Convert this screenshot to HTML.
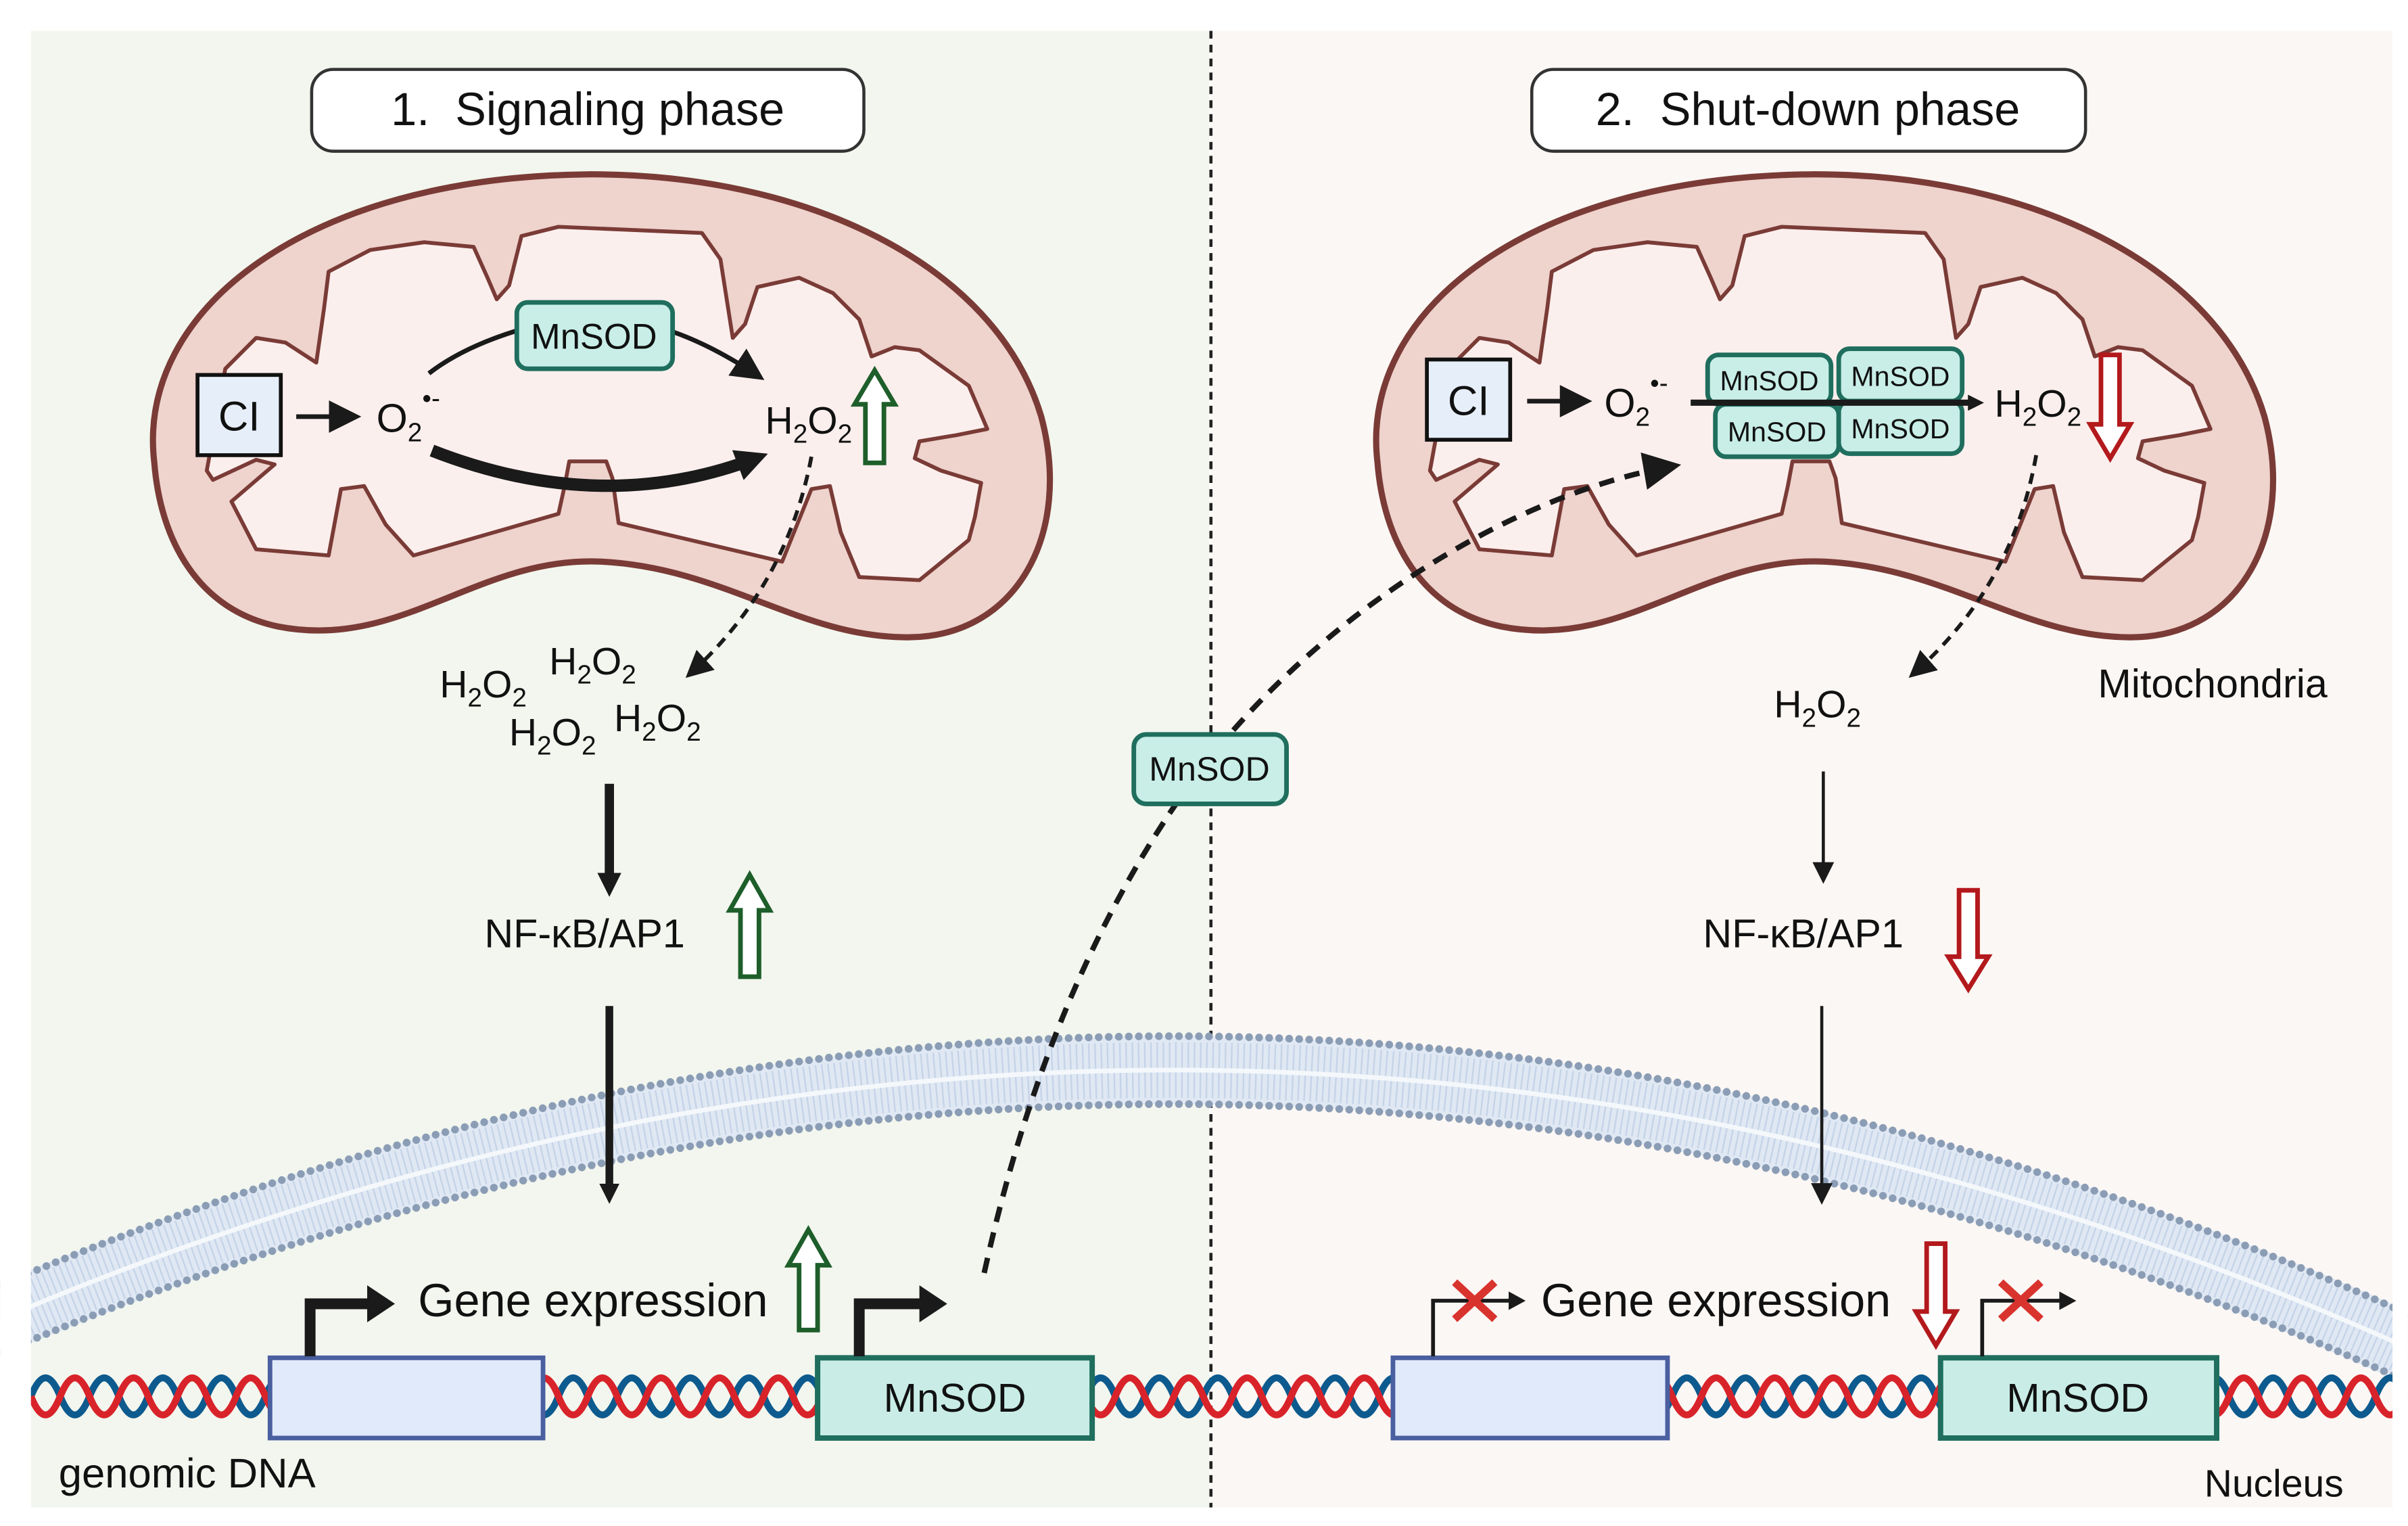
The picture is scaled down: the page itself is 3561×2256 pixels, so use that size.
<!DOCTYPE html>
<html><head><meta charset="utf-8"><style>
html,body{margin:0;padding:0;background:#fff}
svg{display:block}
text{font-family:"Liberation Sans",sans-serif;fill:#111}
</style></head><body>
<svg width="3561" height="2256" viewBox="0 0 1561 989" xmlns="http://www.w3.org/2000/svg">
<defs>
<marker id="ah" viewBox="0 0 10 10" refX="8" refY="5" markerWidth="4" markerHeight="4" orient="auto" markerUnits="strokeWidth"><path d="M0,0 L10,5 L0,10 z" fill="#1a1a1a"/></marker>
<marker id="ahs" viewBox="0 0 10 10" refX="8" refY="5" markerWidth="7" markerHeight="7" orient="auto" markerUnits="strokeWidth"><path d="M0,0 L10,5 L0,10 z" fill="#1a1a1a"/></marker>
<marker id="ahb" viewBox="0 0 10 10" refX="6" refY="5" markerWidth="2.6" markerHeight="2.6" orient="auto" markerUnits="strokeWidth"><path d="M0,0 L10,5 L0,10 z" fill="#1a1a1a"/></marker>
<g id="mito">
<path d="M100,300 C88,200 200,115 380,113 C520,112 645,170 675,270 C695,345 660,412 590,413 C520,414 470,368 390,364 C310,360 260,422 180,406 C128,395 104,350 100,300 Z" fill="#efd3cd" stroke="#7a3b36" stroke-width="4"/>
<polygon points="134,305 146,239 166,219 185,222 205,235 210,200 213,176 240,162 275,157 307,160 316,180 322,194 330,185 338,153 362,147 455,151 467,168 475,219 483,210 491,186 518,180 540,190 557,207 565,231 580,225 596,227 628,250 640,278 620,282 596,286 593,297 610,305 636,313 632,335 628,350 596,376 557,374 545,345 538,315 526,317 507,364 401,339 397,310 393,299 369,299 366,315 362,333 268,360 250,340 236,315 221,317 213,360 166,356 150,325 178,301 166,298 138,311" fill="#fbefed" stroke="#7a3b36" stroke-width="2.5" stroke-linejoin="round"/>
</g>
</defs>
<rect x="0" y="0" width="1561" height="989" fill="#fff"/>
<rect x="20" y="20" width="764" height="957" fill="#f2f6ee"/>
<rect x="785" y="20" width="766" height="957" fill="#fbf7f4"/>
<line x1="785" y1="20" x2="785" y2="977" stroke="#222" stroke-width="2" stroke-dasharray="5,4"/>

<rect x="202" y="45" width="358" height="53" rx="14" fill="#fff" stroke="#333" stroke-width="2"/>
<text x="381" y="81" font-size="30" text-anchor="middle">1.&#160; Signaling phase</text>
<rect x="993" y="45" width="359" height="53" rx="14" fill="#fff" stroke="#333" stroke-width="2"/>
<text x="1172" y="81" font-size="30" text-anchor="middle">2.&#160; Shut-down phase</text>

<path d="M0,855 Q790,520 1575,880" fill="none" stroke="#dfe8f3" stroke-width="44"/>
<path d="M0,855 Q790,520 1575,880" fill="none" stroke="#b9cbe3" stroke-width="36" stroke-dasharray="1,3" opacity="0.7"/>
<path d="M0,855 Q790,520 1575,880" fill="none" stroke="#f4f8fb" stroke-width="3"/>
<path d="M0,833 Q790,498 1575,858" fill="none" stroke="#8b9db5" stroke-width="5" stroke-dasharray="0,6.5" stroke-linecap="round"/>
<path d="M0,877 Q790,542 1575,902" fill="none" stroke="#8b9db5" stroke-width="5" stroke-dasharray="0,6.5" stroke-linecap="round"/>
<rect x="0" y="977" width="1561" height="12" fill="#fff"/>
<rect x="0" y="0" width="20" height="989" fill="#fff"/>
<rect x="1551" y="0" width="10" height="989" fill="#fff"/>

<use href="#mito"/>
<use href="#mito" transform="translate(793,0)"/>

<rect x="128" y="243" width="54" height="52" fill="#e6eefa" stroke="#111" stroke-width="2.5"/>
<text x="155" y="279" font-size="27" text-anchor="middle">CI</text>
<line x1="192" y1="270" x2="230" y2="270" stroke="#1a1a1a" stroke-width="3" marker-end="url(#ahs)"/>
<text x="244" y="280" font-size="26">O<tspan font-size="17" dy="6">2</tspan><tspan font-size="17" dy="-22">•-</tspan></text>
<path d="M278,242 Q300,225 336,214" fill="none" stroke="#1a1a1a" stroke-width="3"/>
<path d="M436,215 Q462,224 492,244" fill="none" stroke="#1a1a1a" stroke-width="3" marker-end="url(#ahs)"/>
<rect x="335" y="196" width="101" height="43" rx="7" fill="#c8eee7" stroke="#1f6e5e" stroke-width="3"/>
<text x="385" y="226" font-size="23" text-anchor="middle">MnSOD</text>
<path d="M280,292 Q390,335 490,297" fill="none" stroke="#1a1a1a" stroke-width="8" marker-end="url(#ahb)"/>
<text x="496" y="281" font-size="25">H<tspan font-size="17" dy="6">2</tspan><tspan dy="-6">O</tspan><tspan font-size="17" dy="6">2</tspan></text>
<path d="M567,240 L580,262 L573,262 L573,300 L561,300 L561,262 L554,262 Z" fill="#fff" stroke="#1e5e2a" stroke-width="3"/>
<path d="M526,296 Q510,380 447,437" fill="none" stroke="#1a1a1a" stroke-width="2.5" stroke-dasharray="7,5" marker-end="url(#ahs)"/>

<text x="285" y="452" font-size="25">H<tspan font-size="17" dy="6">2</tspan><tspan dy="-6">O</tspan><tspan font-size="17" dy="6">2</tspan></text>
<text x="356" y="437" font-size="25">H<tspan font-size="17" dy="6">2</tspan><tspan dy="-6">O</tspan><tspan font-size="17" dy="6">2</tspan></text>
<text x="330" y="483" font-size="25">H<tspan font-size="17" dy="6">2</tspan><tspan dy="-6">O</tspan><tspan font-size="17" dy="6">2</tspan></text>
<text x="398" y="474" font-size="25">H<tspan font-size="17" dy="6">2</tspan><tspan dy="-6">O</tspan><tspan font-size="17" dy="6">2</tspan></text>

<line x1="395" y1="508" x2="395" y2="575" stroke="#1a1a1a" stroke-width="6" marker-end="url(#ahb)"/>
<text x="314" y="614" font-size="26">NF-κB/AP1</text>
<path d="M486,567 L499,590 L492,590 L492,633 L480,633 L480,590 L473,590 Z" fill="#fff" stroke="#1e5e2a" stroke-width="3"/>
<line x1="395" y1="652" x2="395" y2="775" stroke="#1a1a1a" stroke-width="5" marker-end="url(#ahb)"/>

<rect x="925" y="233" width="54" height="52" fill="#e6eefa" stroke="#111" stroke-width="2.5"/>
<text x="952" y="269" font-size="27" text-anchor="middle">CI</text>
<line x1="990" y1="260" x2="1028" y2="260" stroke="#1a1a1a" stroke-width="3" marker-end="url(#ahs)"/>
<text x="1040" y="270" font-size="26">O<tspan font-size="17" dy="6">2</tspan><tspan font-size="17" dy="-22">•-</tspan></text>
<rect x="1107" y="230" width="80" height="32" rx="7" fill="#c8eee7" stroke="#1f6e5e" stroke-width="3"/>
<rect x="1192" y="226" width="80" height="34" rx="7" fill="#c8eee7" stroke="#1f6e5e" stroke-width="3"/>
<rect x="1112" y="262" width="80" height="34" rx="7" fill="#c8eee7" stroke="#1f6e5e" stroke-width="3"/>
<rect x="1192" y="260" width="80" height="34" rx="7" fill="#c8eee7" stroke="#1f6e5e" stroke-width="3"/>
<line x1="1096" y1="261" x2="1282" y2="261" stroke="#1a1a1a" stroke-width="4" marker-end="url(#ahb)"/>
<text x="1147" y="253" font-size="18" text-anchor="middle">MnSOD</text>
<text x="1232" y="250" font-size="18" text-anchor="middle">MnSOD</text>
<text x="1152" y="286" font-size="18" text-anchor="middle">MnSOD</text>
<text x="1232" y="284" font-size="18" text-anchor="middle">MnSOD</text>
<text x="1293" y="270" font-size="25">H<tspan font-size="17" dy="6">2</tspan><tspan dy="-6">O</tspan><tspan font-size="17" dy="6">2</tspan></text>
<path d="M1362,230 L1374,230 L1374,275 L1381,275 L1368,297 L1355,275 L1362,275 Z" fill="#fff" stroke="#b3191c" stroke-width="3"/>
<path d="M1320,295 Q1305,380 1240,437" fill="none" stroke="#1a1a1a" stroke-width="2.5" stroke-dasharray="7,5" marker-end="url(#ahs)"/>
<text x="1360" y="452" font-size="26">Mitochondria</text>
<text x="1150" y="465" font-size="25">H<tspan font-size="17" dy="6">2</tspan><tspan dy="-6">O</tspan><tspan font-size="17" dy="6">2</tspan></text>
<line x1="1182" y1="500" x2="1182" y2="570" stroke="#1a1a1a" stroke-width="2" marker-end="url(#ahs)"/>
<text x="1104" y="614" font-size="26">NF-κB/AP1</text>
<path d="M1270,577 L1282,577 L1282,620 L1289,620 L1276,641 L1263,620 L1270,620 Z" fill="#fff" stroke="#b3191c" stroke-width="3"/>
<line x1="1181" y1="652" x2="1181" y2="778" stroke="#1a1a1a" stroke-width="2" marker-end="url(#ahs)"/>

<path d="M638,825 C670,680 720,580 770,510 C850,400 980,320 1085,302" fill="none" stroke="#1a1a1a" stroke-width="3.5" stroke-dasharray="10,7" marker-end="url(#ahs)"/>
<rect x="735" y="476" width="99" height="45" rx="8" fill="#c8eee7" stroke="#1f6e5e" stroke-width="3"/>
<text x="784" y="506" font-size="22" text-anchor="middle">MnSOD</text>

<path d="M20,905 q9.5,-24 19,0 t19,0 t19,0 t19,0 t19,0 t19,0 t19,0 t19,0 t19,0 t19,0 t19,0 t19,0 t19,0 t19,0 t19,0 t19,0 t19,0 t19,0 t19,0 t19,0 t19,0 t19,0 t19,0 t19,0 t19,0 t19,0 t19,0 t19,0 t19,0 t19,0 t19,0 t19,0 t19,0 t19,0 t19,0 t19,0 t19,0 t19,0 t19,0 t19,0 t19,0 t19,0 t19,0 t19,0 t19,0 t19,0 t19,0 t19,0 t19,0 t19,0 t19,0 t19,0 t19,0 t19,0 t19,0 t19,0 t19,0 t19,0 t19,0 t19,0 t19,0 t19,0 t19,0 t19,0 t19,0 t19,0 t19,0 t19,0 t19,0 t19,0 t19,0 t19,0 t19,0 t19,0 t19,0 t19,0 t19,0 t19,0 t19,0 t19,0 t19,0" fill="none" stroke="#0d5a8e" stroke-width="4.5"/>
<path d="M20,905 q9.5,24 19,0 t19,0 t19,0 t19,0 t19,0 t19,0 t19,0 t19,0 t19,0 t19,0 t19,0 t19,0 t19,0 t19,0 t19,0 t19,0 t19,0 t19,0 t19,0 t19,0 t19,0 t19,0 t19,0 t19,0 t19,0 t19,0 t19,0 t19,0 t19,0 t19,0 t19,0 t19,0 t19,0 t19,0 t19,0 t19,0 t19,0 t19,0 t19,0 t19,0 t19,0 t19,0 t19,0 t19,0 t19,0 t19,0 t19,0 t19,0 t19,0 t19,0 t19,0 t19,0 t19,0 t19,0 t19,0 t19,0 t19,0 t19,0 t19,0 t19,0 t19,0 t19,0 t19,0 t19,0 t19,0 t19,0 t19,0 t19,0 t19,0 t19,0 t19,0 t19,0 t19,0 t19,0 t19,0 t19,0 t19,0 t19,0 t19,0 t19,0 t19,0" fill="none" stroke="#d9232a" stroke-width="4.5"/>
<rect x="0" y="880" width="20" height="50" fill="#fff"/>
<rect x="1551" y="880" width="10" height="50" fill="#fff"/>

<rect x="175" y="880" width="177" height="52" fill="#e1eafb" stroke="#4a5fa0" stroke-width="3"/>
<rect x="530" y="880" width="178" height="52" fill="#c9ede6" stroke="#1f6e5e" stroke-width="3.5"/>
<text x="619" y="915" font-size="26" text-anchor="middle">MnSOD</text>
<rect x="903" y="880" width="178" height="52" fill="#e1eafb" stroke="#4a5fa0" stroke-width="3"/>
<rect x="1258" y="880" width="179" height="52" fill="#c9ede6" stroke="#1f6e5e" stroke-width="3.5"/>
<text x="1347" y="915" font-size="26" text-anchor="middle">MnSOD</text>

<path d="M201,879 L201,845 L240,845" fill="none" stroke="#1a1a1a" stroke-width="7"/>
<path d="M238,833 L256,845 L238,857 Z" fill="#1a1a1a"/>
<path d="M557,879 L557,845 L598,845" fill="none" stroke="#1a1a1a" stroke-width="7"/>
<path d="M596,833 L614,845 L596,857 Z" fill="#1a1a1a"/>
<text x="271" y="853" font-size="30">Gene expression</text>
<path d="M524,797 L537,820 L530,820 L530,862 L518,862 L518,820 L511,820 Z" fill="#fff" stroke="#1e5e2a" stroke-width="3"/>

<path d="M929,879 L929,843 L980,843" fill="none" stroke="#1a1a1a" stroke-width="2.5"/>
<path d="M978,837 L989,843 L978,849 Z" fill="#1a1a1a"/>
<path d="M943,831 L969,855 M969,831 L943,855" stroke="#d9332e" stroke-width="5"/>
<text x="999" y="853" font-size="30">Gene expression</text>
<path d="M1249,806 L1261,806 L1261,850 L1268,850 L1255,872 L1242,850 L1249,850 Z" fill="#fff" stroke="#b3191c" stroke-width="3"/>
<path d="M1285,879 L1285,843 L1337,843" fill="none" stroke="#1a1a1a" stroke-width="2.5"/>
<path d="M1335,837 L1346,843 L1335,849 Z" fill="#1a1a1a"/>
<path d="M1297,831 L1323,855 M1323,831 L1297,855" stroke="#d9332e" stroke-width="5"/>

<text x="38" y="964" font-size="27">genomic DNA</text>
<text x="1429" y="970" font-size="25">Nucleus</text>
</svg>
</body></html>
